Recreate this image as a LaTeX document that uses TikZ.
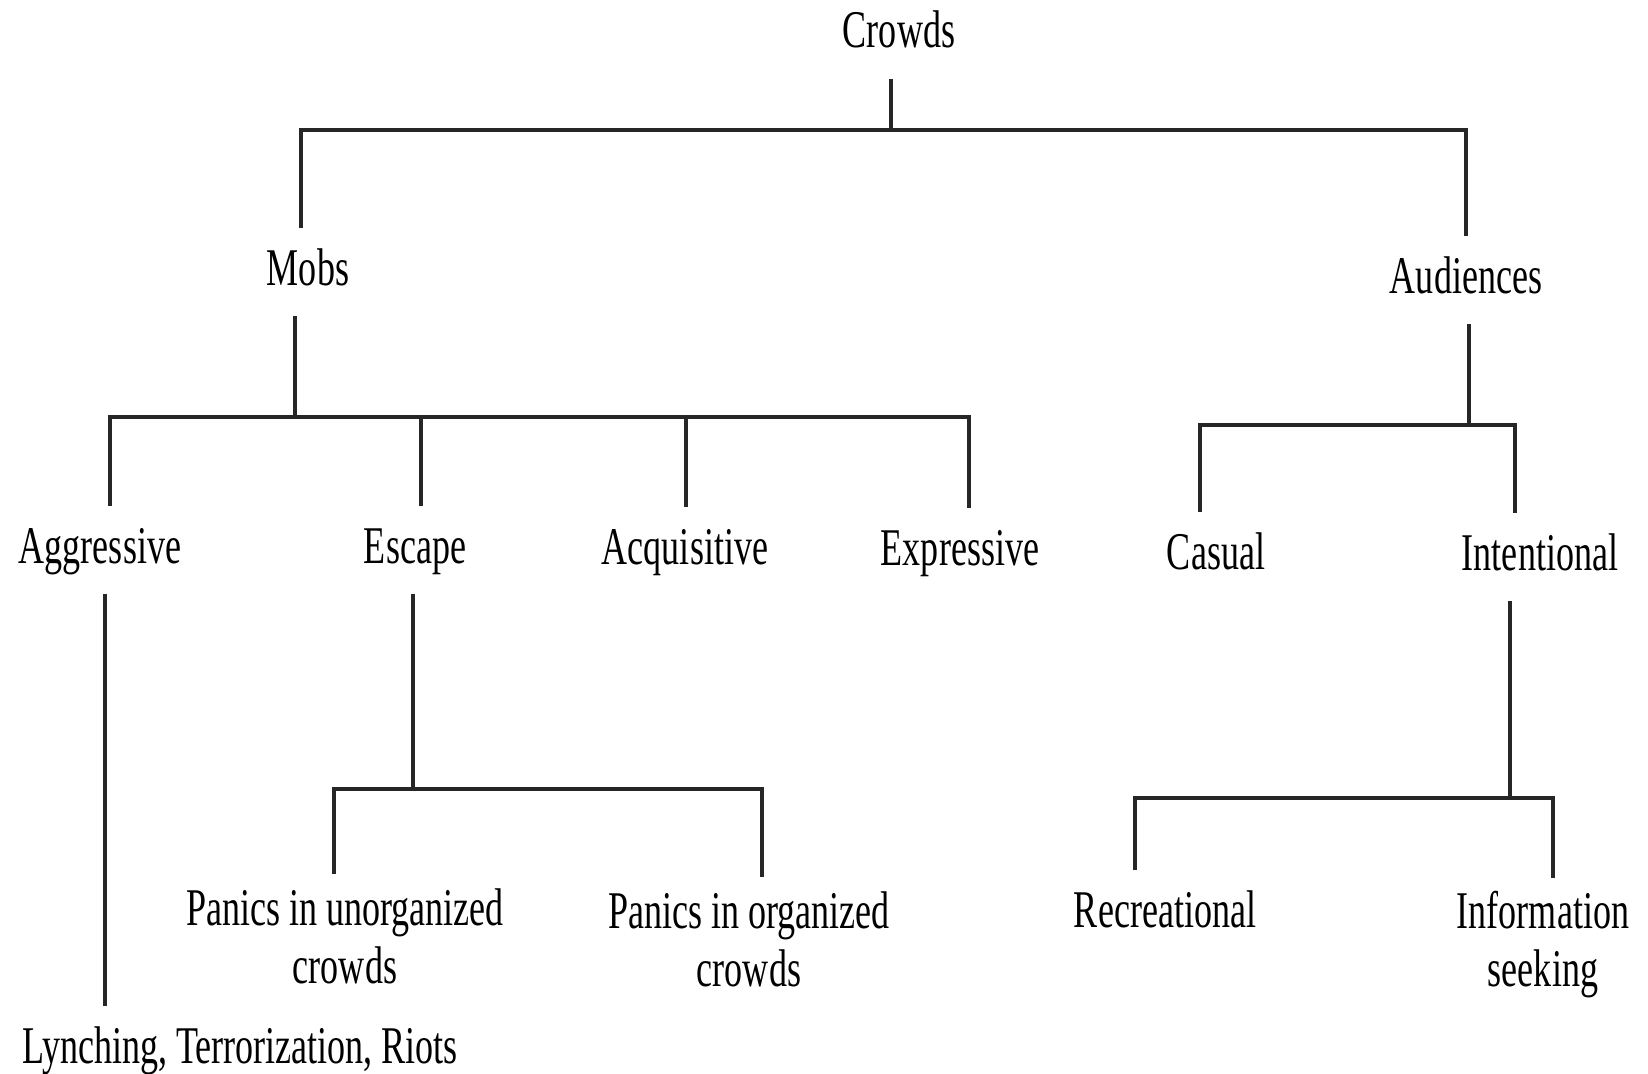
\documentclass[tikz,border=0pt]{standalone}
\usepackage{fontspec}
\setmainfont[FakeStretch=0.68]{Liberation Serif}
\begin{document}
\begin{tikzpicture}[x=1pt,y=-1pt,
  lbl/.style={inner sep=0pt,outer ysep=20pt,font=\fontsize{53}{58}\selectfont,text height=37pt,text depth=11pt},
  lbl2/.style={inner sep=0pt,outer ysep=14pt,font=\fontsize{53}{58}\selectfont,align=center},
  conn/.style={line width=3.5pt,draw=black!85}]
\useasboundingbox (0,0) rectangle (1648,1073);
% nodes
\node[lbl] (crowds) at (899,35) {Crowds};
\node[lbl] (mobs) at (308,272) {Mobs};
\node[lbl] (aud) at (1466,280) {Audiences};
\node[lbl] (aggr) at (100,550) {Aggressive};
\node[lbl] (esc) at (415,550) {Escape};
\node[lbl] (acq) at (685,551) {Acquisitive};
\node[lbl] (expr) at (960,552) {Expressive};
\node[lbl] (cas) at (1216,556) {Casual};
\node[lbl] (int) at (1540,557) {Intentional};
\node[lbl2] (punorg) at (345,936) {Panics in unorganized\\crowds};
\node[lbl2] (porg) at (749,939) {Panics in organized\\crowds};
\node[lbl] (rec) at (1165,914) {Recreational};
\node[lbl2] (info) at (1543,945) {Information\\seeking};
\node[lbl] (lynch) at (240,1050) {Lynching, Terrorization, Riots};
% junction coordinates
\coordinate (jc) at (891,130);
\coordinate (tl) at (301,130);
\coordinate (tr) at (1466,130);
\coordinate (jm) at (295,417);
\coordinate (m1) at (110,417);
\coordinate (m2) at (421,417);
\coordinate (m3) at (686,417);
\coordinate (m4) at (969,417);
\coordinate (ja) at (1469,425);
\coordinate (a1) at (1200,425);
\coordinate (a2) at (1515,425);
\coordinate (ag) at (105,600);
\coordinate (je) at (413,789);
\coordinate (e1) at (334,789);
\coordinate (e2) at (762,789);
\coordinate (ji) at (1510,798);
\coordinate (i1) at (1135,798);
\coordinate (i2) at (1553,798);
% connectors
\draw[conn] (crowds.south -| jc) -- (jc);
\draw[conn] (mobs.north -| tl) -- (tl) -- (tr) -- (aud.north -| tr);
\draw[conn] (mobs.south -| jm) -- (jm);
\draw[conn] (aggr.north -| m1) -- (m1) -- (m4) -- (expr.north -| m4);
\draw[conn] (m2) -- (esc.north -| m2);
\draw[conn] (m3) -- (acq.north -| m3);
\draw[conn] (aud.south -| ja) -- (ja);
\draw[conn] (cas.north -| a1) -- (a1) -- (a2) -- (int.north -| a2);
\draw[conn] (aggr.south -| ag) -- (lynch.north -| ag);
\draw[conn] (esc.south -| je) -- (je);
\draw[conn] (punorg.north -| e1) -- (e1) -- (e2) -- (porg.north -| e2);
\draw[conn] (int.south -| ji) -- (ji);
\draw[conn] (rec.north -| i1) -- (i1) -- (i2) -- (info.north -| i2);
\end{tikzpicture}
\end{document}
